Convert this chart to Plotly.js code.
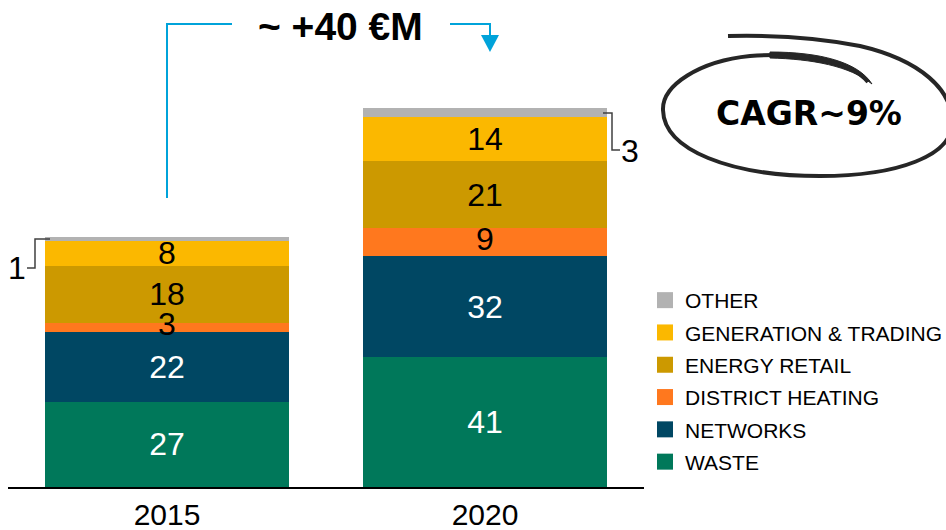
<!DOCTYPE html>
<html>
<head>
<meta charset="utf-8">
<script src="https://cdn.plot.ly/plotly-3.0.1.min.js"></script>
<style>html,body{margin:0;padding:0;background:#fff;}#chart{width:946px;height:530px;}</style>
</head>
<body>
<div id="chart"></div>
<script>
// ---- data ----
const categories = ['2015', '2020'];
const waste = [27, 41];
const networks = [22, 32];
const districtHeating = [3, 9];
const energyRetail = [18, 21];
const generationTrading = [8, 14];
const other = [1, 3];
const seriesNames = ['WASTE', 'NETWORKS', 'DISTRICT HEATING', 'ENERGY RETAIL', 'GENERATION & TRADING', 'OTHER'];
const growthLabel = '~ +40 €M';
const cagrLabel = 'CAGR~9%';

// ---- styling ----
const FONT = 'Liberation Sans, Arial, sans-serif';
const colors = ['#00785A', '#004763', '#FF781E', '#CC9900', '#FBB800', '#B2B2B2'];
const labelColors = ['#ffffff', '#ffffff', '#000000', '#000000', '#000000', '#000000'];
const seriesValues = [waste, networks, districtHeating, energyRetail, generationTrading, other];

const traces = [];
seriesValues.forEach((vals, i) => {
  const noText = (i === 5 || i === 2); // OTHER labelled outside, DISTRICT HEATING labelled on top layer
  traces.push({
    type: 'bar', x: categories, y: vals, name: seriesNames[i],
    marker: {color: colors[i], line: {width: 0}},
    text: noText ? null : vals.map(String),
    textposition: noText ? 'none' : 'inside',
    insidetextanchor: 'middle',
    textangle: 0,
    constraintext: 'none',
    textfont: {family: FONT, size: 32, color: labelColors[i]},
    showlegend: false, hoverinfo: 'skip'
  });
});
// district heating labels as a text layer above all bar segments
traces.push({
  type: 'scatter', mode: 'text', x: categories,
  y: categories.map((c, i) => waste[i] + networks[i] + districtHeating[i] / 2),
  text: districtHeating.map(String), textposition: 'middle center',
  textfont: {family: FONT, size: 32, color: '#000'},
  showlegend: false, hoverinfo: 'skip', cliponaxis: false
});
// legend entries (top to bottom: OTHER ... WASTE)
for (let i = 5; i >= 0; i--) {
  traces.push({
    type: 'scatter', mode: 'markers', x: [null], y: [null], name: seriesNames[i],
    legendgroup: 'g' + i, showlegend: true, hoverinfo: 'skip',
    marker: {symbol: 'square', size: 16, color: colors[i]}
  });
}

// pixel -> paper helpers for decorations
const L = 8, T = 0, W = 636, H = 487;
const px = x => (x - L) / W;
const py = y => (T + H - y) / H;
const toPaper = s => s.replace(/(-?\d+\.?\d*),(-?\d+\.?\d*)/g, (m, a, b) => px(+a).toFixed(5) + ',' + py(+b).toFixed(5));

const blue = '#00A3DA';
const dark = '#262626';
const shapes = [
  {type: 'path', xref: 'paper', yref: 'paper', path: toPaper('M167,198 L167,24 L232,24'), line: {color: blue, width: 2}},
  {type: 'path', xref: 'paper', yref: 'paper', path: toPaper('M450,24 L490,24 L490,37'), line: {color: blue, width: 2}},
  {type: 'path', xref: 'paper', yref: 'paper', path: toPaper('M481,35 L499,35 L490,52 Z'), fillcolor: blue, line: {color: blue, width: 0}},
  {type: 'path', xref: 'paper', yref: 'paper', path: toPaper('M50,239 L35,239 L35,268 L27,268'), line: {color: '#404040', width: 1.5}},
  {type: 'path', xref: 'paper', yref: 'paper', path: toPaper('M603,113 L612,113 L612,150 L620,150'), line: {color: '#404040', width: 1.5}},
  // hand-drawn ellipse
  {type: 'path', xref: 'paper', yref: 'paper',
   path: toPaper('M868,82 C850,60 800,52 750,56 C700,61 662,85 663,110 C664,150 730,176 820,176 C900,176 950,155 952,125 C954,90 920,60 860,46 C820,38 770,35 728,36'),
   line: {color: dark, width: 4}},
  {type: 'path', xref: 'paper', yref: 'paper',
   path: toPaper('M770,52 C820,52 858,62 872,84 C850,66 812,59 770,58 Z'),
   fillcolor: dark, line: {color: dark, width: 1}}
];

const totals = categories.map((c, i) => seriesValues.reduce((s, v) => s + v[i], 0));
const annotations = [
  {x: categories[0], y: totals[0], xref: 'x', yref: 'y', text: '<b>' + totals[0] + '</b>', showarrow: false,
   yanchor: 'middle', yshift: 25, font: {family: FONT, size: 33, color: '#000'}},
  {x: categories[1], y: totals[1], xref: 'x', yref: 'y', text: '<b>' + totals[1] + '</b>', showarrow: false,
   yanchor: 'middle', yshift: 27, font: {family: FONT, size: 33, color: '#000'}},
  {x: px(340), y: py(27), xref: 'paper', yref: 'paper', text: '<b>' + growthLabel + '</b>', showarrow: false,
   xanchor: 'center', yanchor: 'middle', font: {family: FONT, size: 39, color: '#000'}},
  {x: px(17), y: py(268), xref: 'paper', yref: 'paper', text: String(other[0]), showarrow: false,
   xanchor: 'center', yanchor: 'middle', font: {family: FONT, size: 32, color: '#000'}},
  {x: px(630), y: py(151), xref: 'paper', yref: 'paper', text: String(other[1]), showarrow: false,
   xanchor: 'center', yanchor: 'middle', font: {family: FONT, size: 32, color: '#000'}},
  {x: px(809), y: py(113), xref: 'paper', yref: 'paper', text: '<b>' + cagrLabel + '</b>', showarrow: false,
   xanchor: 'center', yanchor: 'middle', font: {family: 'DejaVu Sans, Verdana, sans-serif', size: 33, color: '#000'}}
];

const layout = {
  width: 946, height: 530,
  margin: {l: L, r: 946 - L - W, t: T, b: 530 - T - H, pad: 0},
  paper_bgcolor: '#fff', plot_bgcolor: '#fff',
  barmode: 'stack', bargap: 0.23,
  font: {family: FONT, color: '#000'},
  xaxis: {type: 'category', range: [-0.5, 1.5], showline: true, linecolor: '#000', linewidth: 2,
          ticks: '', tickfont: {family: FONT, size: 30, color: '#000'}, showgrid: false, zeroline: false, fixedrange: true},
  yaxis: {visible: false, range: [0, 154.1], showgrid: false, zeroline: false, fixedrange: true},
  showlegend: true,
  legend: {xref: 'container', yref: 'container', x: 645 / 946, y: 1 - 280 / 530, xanchor: 'left', yanchor: 'top',
           traceorder: 'grouped', tracegroupgap: 2, font: {family: FONT, size: 21, color: '#000'},
           bgcolor: 'rgba(0,0,0,0)', borderwidth: 0, itemclick: false, itemdoubleclick: false},
  shapes: shapes,
  annotations: annotations
};

Plotly.newPlot('chart', traces, layout, {staticPlot: true, displayModeBar: false});
</script>
</body>
</html>
